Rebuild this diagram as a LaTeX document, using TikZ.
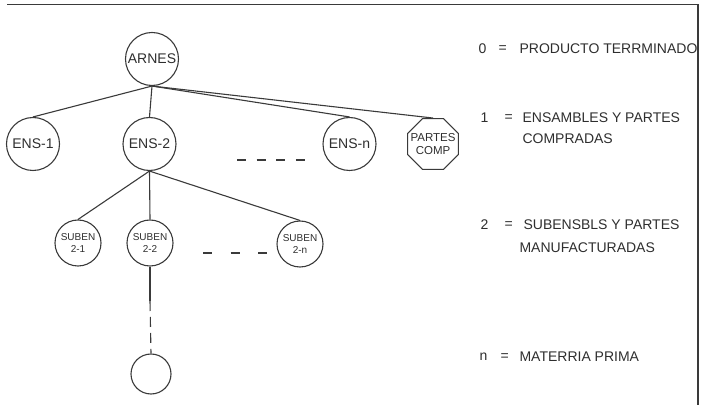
\documentclass[tikz,border=0pt]{standalone}
\usepackage{fontspec}
\setmainfont{Liberation Sans}
\usetikzlibrary{shapes.geometric}
\definecolor{ink}{HTML}{3A3A3A}
\definecolor{txt}{HTML}{2E2E2E}
\begin{document}
\begin{tikzpicture}[x=1pt,y=-1pt,
  line width=1.1pt, draw=ink,
  item/.style={circle,draw=ink,line width=1.1pt,inner sep=0pt,minimum size=#1},
  lbl/.style={text=txt,inner sep=0pt,align=center,font=\fontsize{14}{14}\selectfont},
  slbl/.style={text=txt,inner sep=0pt,align=center,font=\fontsize{10}{12}\selectfont},
  leg/.style={text=txt,inner sep=0pt,anchor=west,font=\fontsize{14}{14}\selectfont},
  conn/.style={draw=ink,line width=1.1pt}
]
\useasboundingbox (0,0) rectangle (704,411);
% frame
\coordinate (fa) at (7,4.5);
\coordinate (fb) at (698,4.5);
\coordinate (fc) at (698,405);
\draw[conn] (fa) -- (fb) -- (fc);

% tree nodes
\node[item=53] (arnes) at (152,59) {};
\node[lbl] (arnesT) at (arnes.center) {ARNES};
\node[item=53] (ens1) at (33,144) {};
\node[lbl] (ens1T) at (ens1.center) {ENS-1};
\node[item=53] (ens2) at (149.5,144) {};
\node[lbl] (ens2T) at (ens2.center) {ENS-2};
\node[item=53] (ensn) at (349.5,144) {};
\node[lbl] (ensnT) at (ensn.center) {ENS-n};
\node[regular polygon,regular polygon sides=8,draw=ink,line width=1.1pt,inner sep=0pt,minimum size=55] (partes) at (433,144) {};
\node[text=txt,inner sep=0pt,align=center,font=\fontsize{11.5}{13}\selectfont] (partesT) at (partes.center) {PARTES\\COMP};

\node[item=46] (s21) at (78,243) {};
\node[slbl] (s21T) at (s21.center) {SUBEN\\2-1};
\node[item=46] (s22) at (150,243) {};
\node[slbl] (s22T) at (s22.center) {SUBEN\\2-2};
\node[item=46] (s2n) at (300,244) {};
\node[slbl] (s2nT) at (s2n.center) {SUBEN\\2-n};
\node[item=40] (mp) at (151,374) {};

% connectors
\draw[conn] (arnes.south) -- (ens1.north);
\draw[conn] (arnes.south) -- (ens2.north);
\draw[conn] (arnes.south) -- (ensn.north);
\draw[conn] (arnes.south) -- (partes.north);
\draw[conn] (ens2.south) -- (s21.north);
\draw[conn] (ens2.south) -- (s22.north);
\draw[conn] (ens2.south) -- (s2n.north);
\coordinate (vmid) at (150,301);
\draw[conn] (s22.south) -- (vmid);
\draw[conn,dash pattern=on 10pt off 6pt] (vmid) -- (mp.north);

% ellipsis dashes
\coordinate (d1a) at (237,160);
\coordinate (d1b) at (305,160);
\draw[conn,dash pattern=on 9pt off 10.6pt] (d1a) -- (d1b);
\coordinate (d2a) at (203,253);
\coordinate (d2b) at (267,253);
\draw[conn,dash pattern=on 9pt off 18.5pt] (d2a) -- (d2b);

% legend
\node[leg] (n0) at (478,49) {0};
\node[leg] (e0) at (498,49) {=};
\node[leg] (t0) at (519,49) {PRODUCTO TERRMINADO};

\node[leg] (n1) at (480,118) {1};
\node[leg] (e1) at (504,118) {=};
\node[leg] (t1) at (522,118) {ENSAMBLES Y PARTES};
\node[leg] (t1b) at (522,139) {COMPRADAS};

\node[leg] (n2) at (480,225) {2};
\node[leg] (e2) at (504,225) {=};
\node[leg] (t2) at (523,225) {SUBENSBLS Y PARTES};
\node[leg] (t2b) at (519,248) {MANUFACTURADAS};

\node[leg] (nn) at (479,357) {n};
\node[leg] (en) at (500,357) {=};
\node[leg] (tn) at (519,357) {MATERRIA PRIMA};
\end{tikzpicture}
\end{document}
